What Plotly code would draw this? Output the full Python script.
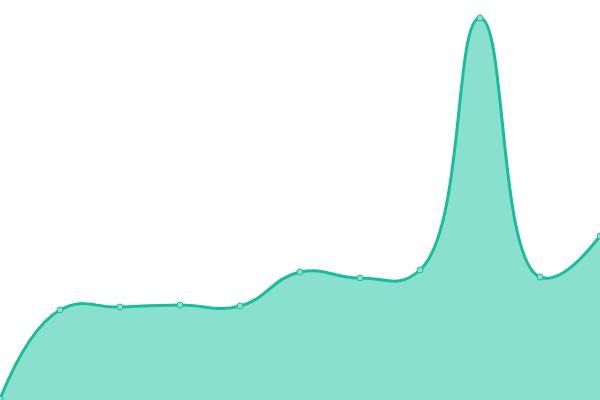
import plotly.graph_objects as go

x_idx = [0, 1, 2, 3, 4, 5, 6, 7, 8, 9, 10]
values = [1, 90, 93, 95, 94, 128, 122, 130, 382, 123, 164]

fig = go.Figure()
fig.add_trace(go.Scatter(
    x=x_idx, y=values, mode="lines+markers",
    line=dict(shape="spline", smoothing=1.3, color="#1abc9c", width=3),
    fill="tozeroy", fillcolor="#89e0cf",
    marker=dict(size=6, color="#89e0cf", line=dict(color="#1abc9c", width=1)),
    hoverinfo="skip",
))
fig.update_layout(
    width=600, height=400, margin=dict(l=0, r=0, t=0, b=0),
    paper_bgcolor="white", plot_bgcolor="white", showlegend=False,
    xaxis=dict(range=[0, 10], visible=False, fixedrange=True),
    yaxis=dict(range=[0, 400], visible=False, fixedrange=True),
)
fig.write_html(
    "out.html",
    config={"displayModeBar": False},
    post_script="document.body.style.margin='0';document.body.style.overflow='hidden';",
)
